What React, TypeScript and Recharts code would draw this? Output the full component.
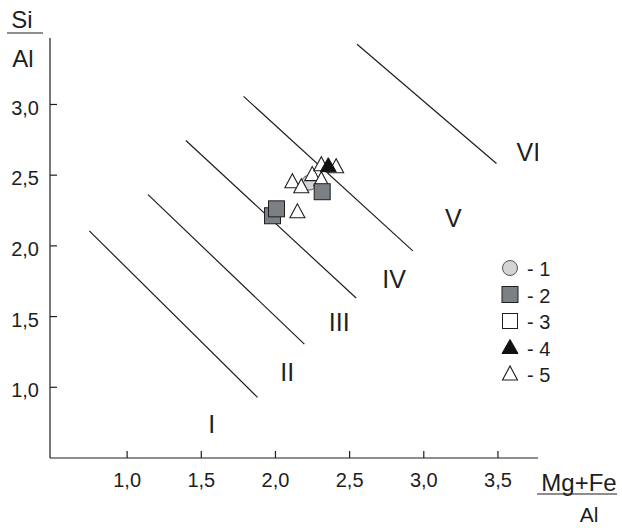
import React from 'react';
import {
    ScatterChart,
    Scatter,
    XAxis,
    YAxis,
    ReferenceLine,
    Legend,
    Customized
} from 'recharts';

const FONT = '"Liberation Sans", Arial, sans-serif';
const INK = '#1e1e1e';

const X_TICKS = [1.0, 1.5, 2.0, 2.5, 3.0, 3.5];
const Y_TICKS = [1.0, 1.5, 2.0, 2.5, 3.0];

// field boundaries as [x1, y1, x2, y2]
const LINE_I = [0.745, 2.106, 1.879, 0.929];
const LINE_II = [1.141, 2.362, 2.195, 1.305];
const LINE_III = [1.396, 2.745, 2.544, 1.631];
const LINE_IV = [1.785, 3.057, 2.926, 1.965];
const LINE_V = [2.55, 3.426, 3.49, 2.582];
const BOUNDARIES = [LINE_I, LINE_II, LINE_III, LINE_IV, LINE_V];

const ZONE_NAMES = ['I', 'II', 'III', 'IV', 'V', 'VI'];
const ZONE_X = [1.57, 2.08, 2.43, 2.8, 3.2, 3.705];
const ZONE_Y = [0.738, 1.106, 1.461, 1.766, 2.199, 2.667];

const SERIES_1 = [{ x: 2.228, y: 2.447 }];
const SERIES_2 = [
    { x: 2.315, y: 2.383 },
    { x: 1.98, y: 2.213 },
    { x: 2.007, y: 2.262 }
];
const SERIES_3: { x: number; y: number }[] = [];
const SERIES_4 = [{ x: 2.356, y: 2.567 }];
const SERIES_5 = [
    { x: 2.114, y: 2.454 },
    { x: 2.174, y: 2.418 },
    { x: 2.148, y: 2.241 },
    { x: 2.248, y: 2.504 },
    { x: 2.309, y: 2.574 },
    { x: 2.409, y: 2.56 },
    { x: 2.309, y: 2.468 }
];

const LEGEND_NAMES = ['- 1', '- 2', '- 3', '- 4', '- 5'];
const LEGEND_KINDS = ['circle', 'graySquare', 'openSquare', 'blackTriangle', 'openTriangle'];

const fmt = (v: number) => v.toFixed(1).replace('.', ',');

const zoneData = ZONE_NAMES.map((name, i) => ({ name, x: ZONE_X[i], y: ZONE_Y[i] }));

const drawMarker = (kind: string, cx: number, cy: number, key?: any) => {
    switch (kind) {
        case 'circle':
            return <circle key={key} cx={cx} cy={cy} r={7.5} fill="#d4d4d6" stroke="#555" strokeWidth={1} />;
        case 'graySquare':
            return <rect key={key} x={cx - 8} y={cy - 8} width={16} height={16} fill="#7c8085" stroke={INK} strokeWidth={1} />;
        case 'openSquare':
            return <rect key={key} x={cx - 7.5} y={cy - 7.5} width={15} height={15} fill="#fff" stroke={INK} strokeWidth={1} />;
        case 'blackTriangle':
            return <polygon key={key} points={`${cx},${cy - 8} ${cx - 8},${cy + 6} ${cx + 8},${cy + 6}`} fill="#111" stroke="#111" strokeWidth={1} />;
        default:
            return <polygon key={key} points={`${cx},${cy - 8} ${cx - 7.5},${cy + 6} ${cx + 7.5},${cy + 6}`} fill="#fff" stroke={INK} strokeWidth={1.1} />;
    }
};

const markerShape = (kind: string) => (props: any) => drawMarker(kind, props.cx, props.cy);

const ZoneLabel = (props: any) => (
    <text x={props.cx} y={props.cy} textAnchor="middle" dominantBaseline="central"
        fontFamily={FONT} fontSize={25} fill={INK}>
        {props.payload.name}
    </text>
);

const LegendBox = () => (
    <svg width={74} height={132}>
        {LEGEND_NAMES.map((name, i) => {
            const cy = 13 + i * 26.5;
            return (
                <g key={name}>
                    {drawMarker(LEGEND_KINDS[i], 12, cy)}
                    <text x={29} y={cy + 1} dominantBaseline="central" fontFamily={FONT} fontSize={20} fill={INK}>
                        {name}
                    </text>
                </g>
            );
        })}
    </svg>
);

const AxisTitles = () => (
    <g fontFamily={FONT} fontSize={24} fill={INK}>
        <text x={22} y={19} textAnchor="middle" dominantBaseline="central">Si</text>
        <line x1={7} y1={33} x2={43} y2={33} stroke={INK} strokeWidth={1.2} />
        <text x={23} y={58} textAnchor="middle" dominantBaseline="central">Al</text>
        <text x={579} y={482} textAnchor="middle" dominantBaseline="central">Mg+Fe</text>
        <line x1={537} y1={494} x2={617} y2={494} stroke={INK} strokeWidth={1.2} />
        <text x={589} y={514} textAnchor="middle" dominantBaseline="central" fontSize={21}>Al</text>
    </g>
);

const xTickStyle = { fontFamily: FONT, fontSize: 20, fill: INK };
const yTickStyle = { fontFamily: FONT, fontSize: 20, fill: INK, dy: 3 };

export default function App() {
    return (
        <div style={{ position: 'absolute', left: 0, top: 0, background: '#fff' }}>
            <ScatterChart width={622} height={528} margin={{ top: 38, right: 84, bottom: 0, left: 0 }}>
                <XAxis
                    type="number"
                    dataKey="x"
                    domain={[0.48, 3.77]}
                    allowDataOverflow
                    ticks={X_TICKS}
                    tickFormatter={fmt}
                    height={70}
                    tickSize={-7}
                    tickMargin={22}
                    tick={xTickStyle}
                    axisLine={{ stroke: INK, strokeWidth: 1.2 }}
                    tickLine={{ stroke: INK, strokeWidth: 1.2 }}
                />
                <YAxis
                    type="number"
                    dataKey="y"
                    domain={[0.5, 3.47]}
                    allowDataOverflow
                    ticks={Y_TICKS}
                    tickFormatter={fmt}
                    width={50}
                    tickSize={-7}
                    tickMargin={18}
                    tick={yTickStyle}
                    axisLine={{ stroke: INK, strokeWidth: 1.2 }}
                    tickLine={{ stroke: INK, strokeWidth: 1.2 }}
                />
                {BOUNDARIES.map((b, i) => (
                    <ReferenceLine
                        key={`b-${i}`}
                        segment={[{ x: b[0], y: b[1] }, { x: b[2], y: b[3] }]}
                        stroke={INK}
                        strokeWidth={1.2}
                        ifOverflow="visible"
                    />
                ))}
                <Scatter name="zones" data={zoneData} shape={ZoneLabel} isAnimationActive={false} legendType="none" />
                <Scatter name="- 1" data={SERIES_1} shape={markerShape('circle')} isAnimationActive={false} />
                <Scatter name="- 5" data={SERIES_5} shape={markerShape('openTriangle')} isAnimationActive={false} />
                <Scatter name="- 4" data={SERIES_4} shape={markerShape('blackTriangle')} isAnimationActive={false} />
                <Scatter name="- 3" data={SERIES_3} shape={markerShape('openSquare')} isAnimationActive={false} />
                <Scatter name="- 2" data={SERIES_2} shape={markerShape('graySquare')} isAnimationActive={false} />
                <Legend
                    layout="horizontal"
                    verticalAlign="middle"
                    content={LegendBox}
                    wrapperStyle={{ left: 498, top: 255, width: 74, height: 132 }}
                />
                <Customized component={AxisTitles} />
            </ScatterChart>
        </div>
    );
}
